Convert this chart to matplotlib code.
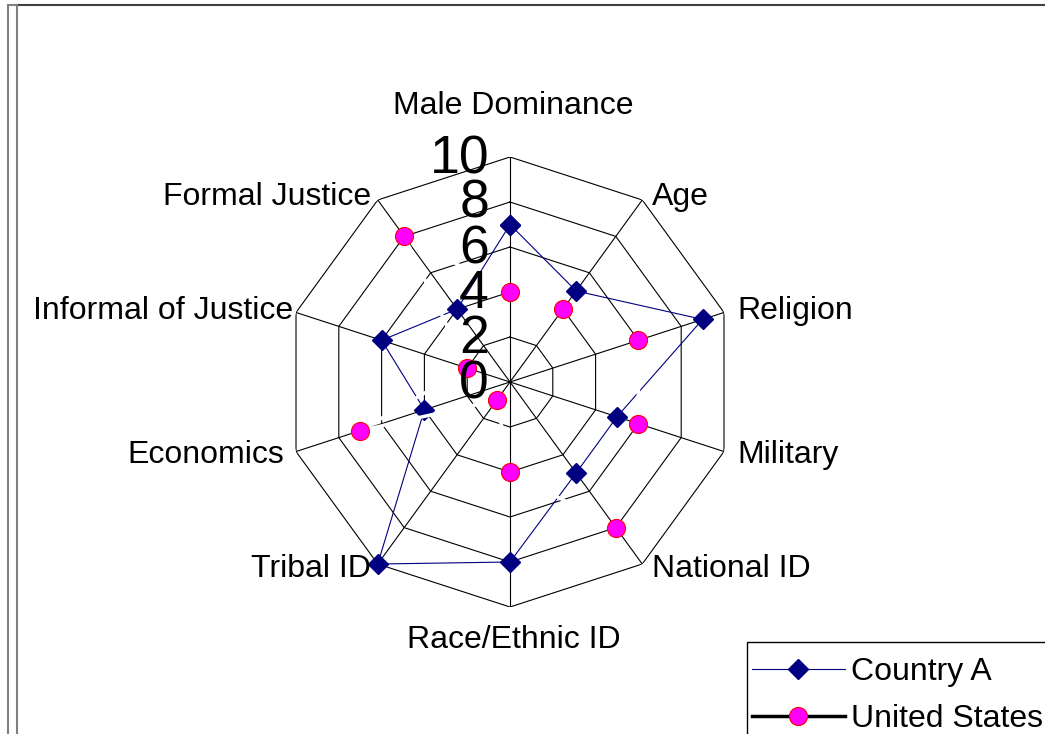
import numpy as np
import matplotlib
matplotlib.use("Agg")
import matplotlib.pyplot as plt
from matplotlib.lines import Line2D
from matplotlib.patches import Rectangle

plt.rcParams['font.family'] = ['Liberation Sans', 'DejaVu Sans']

# data
categories = ["Male Dominance", "Age", "Religion", "Military", "National ID",
              "Race/Ethnic ID", "Tribal ID", "Economics", "Informal of Justice",
              "Formal Justice"]
country_a = [7, 5, 9, 5, 5, 8, 10, 4, 6, 4]
united_states = [4, 4, 6, 6, 8, 4, 1, 7, 2, 8]
ticks = [0, 2, 4, 6, 8, 10]

W, H = 1045, 734
fig = plt.figure(figsize=(W / 100, H / 100), dpi=100)

# polar axes centred at (510, 382) px, radius 225 px
cx, cy, rad = 510, 382, 225
ax = fig.add_axes([(cx - rad) / W, 1 - (cy + rad) / H, 2 * rad / W, 2 * rad / H],
                  projection='polar')
ax.set_theta_zero_location('N')
ax.set_theta_direction(-1)
ax.set_ylim(0, 10)
ax.axis('off')

n = len(categories)
theta = np.arange(n) * 2 * np.pi / n
theta_c = np.append(theta, theta[0])

# polygon rings and spokes
for t in ticks[1:]:
    ax.plot(theta_c, [t] * (n + 1), color='black', lw=0.8, zorder=1)
for th in theta:
    ax.plot([th, th], [0, 10], color='black', lw=0.8, zorder=1)

# series
ax.plot(theta_c, country_a + country_a[:1], color='#000080', lw=0.8,
        marker='D', ms=10, mfc='#000080', mec='#000080', zorder=3, clip_on=False)
ax.plot(theta_c, united_states + united_states[:1], color='white', lw=2.5,
        zorder=4, clip_on=False)
ax.plot(theta, united_states, ls='none', marker='o', ms=13,
        mfc='#FF00FF', mec='#FF0000', mew=0.8, zorder=5, clip_on=False)

# radial tick labels
for t in ticks:
    ax.annotate(str(t), xy=(0, t), xytext=(-21, -2), textcoords='offset pixels',
                ha='right', va='center', fontsize=38.5, zorder=6)

# category labels: (offset x, offset y, ha)
offsets = [(3, 51, 'center'), (10, 3, 'left'), (13, 1, 'left'), (13, -3, 'left'),
           (10, -5, 'left'), (4, -33, 'center'), (-7, -5, 'right'),
           (-12, -3, 'right'), (-3, 1, 'right'), (-7, 3, 'right')]
for th, lab, (dx, dy, ha) in zip(theta, categories, offsets):
    ax.annotate(lab, xy=(th, 10), xytext=(dx, dy), textcoords='offset pixels',
                ha=ha, va='center', fontsize=23, annotation_clip=False)

# legend box (runs off the figure edge like the original)
fig.add_artist(Rectangle((747 / W, -0.1), 0.5, 1 - 642 / H + 0.1,
                         transform=fig.transFigure, fill=False,
                         edgecolor='black', lw=1.0))
handles = [Line2D([], [], color='#000080', lw=0.8, marker='D', ms=10,
                  mfc='#000080', mec='#000080'),
           Line2D([], [], color='black', lw=2.5, marker='o', ms=13,
                  mfc='#FF00FF', mec='#FF0000', mew=0.8)]
leg = fig.legend(handles, ["Country A", "United States"], loc='upper left',
                 bbox_to_anchor=(752 / W, 1 - 657 / H), fontsize=23,
                 frameon=False, handlelength=2.9, handletextpad=0.2,
                 labelspacing=0.53, borderpad=0, borderaxespad=0)

# outer frame lines
fig.add_artist(Line2D([17 / W, 1], [1 - 5 / H, 1 - 5 / H], color='#404040', lw=1.5))
fig.add_artist(Line2D([8 / W, 17 / W], [1 - 5 / H, 1 - 5 / H], color='#808080', lw=1.5))
fig.add_artist(Line2D([8 / W, 8 / W], [0, 1 - 5 / H], color='#808080', lw=1.5))
fig.add_artist(Line2D([17 / W, 17 / W], [0, 1 - 5 / H], color='#808080', lw=1.5))

fig.savefig("out.png", dpi=100)
